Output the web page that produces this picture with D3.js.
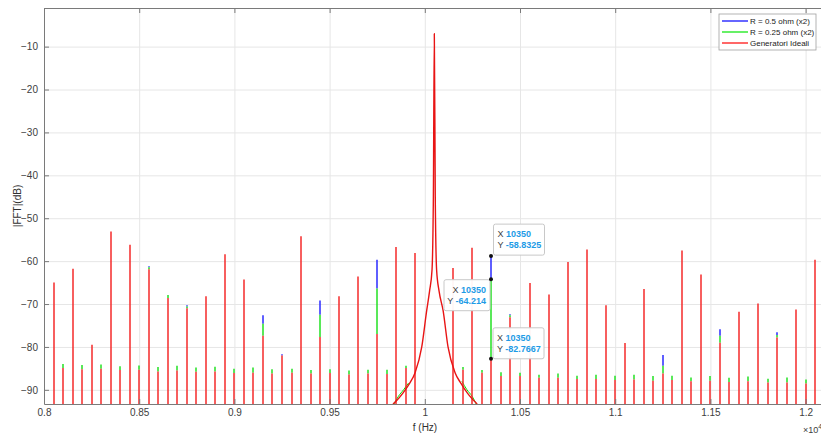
<!DOCTYPE html>
<html lang="en">
<head>
<meta charset="UTF-8">
<title>FFT spectrum</title>
<style>
  body { margin: 0; background: #fff; }
  svg { display: block; font-family: "Liberation Sans", Arial, sans-serif; }
  .axis text { fill: #404040; font-size: 10px; }
  .axis path, .axis line { stroke: #7a7a7a; }
  .grid line { stroke: #e6e6e6; }
  .grid path { display: none; }
</style>
</head>
<body>
<div class="chart"></div>
<script src="https://cdnjs.cloudflare.com/ajax/libs/d3/7.8.5/d3.min.js"></script>
<script>
// harmonics at odd multiples of 50 Hz (dB)
const oddFreq  = [8050, 8150, 8250, 8350, 8450, 8550, 8650, 8750, 8850, 8950,
                  9050, 9150, 9250, 9350, 9450, 9550, 9650, 9750, 9850, 9950,
                  10150, 10250, 10350, 10450, 10550, 10650, 10750, 10850, 10950, 11050,
                  11150, 11250, 11350, 11450, 11550, 11650, 11750, 11850, 11950, 12050];
const oddRed   = [-65.0, -61.8, -79.5, -53.1, -56.2, -61.9, -68.6, -71.0, -68.2, -58.4,
                  -64.3, -77.4, -82.0, -54.2, -77.7, -68.2, -63.6, -77.0, -56.7, -58.1,
                  -61.6, -56.9, -82.7667, -73.1, -65.1, -67.8, -60.2, -57.3, -70.3, -79.1,
                  -66.5, -86.2, -57.5, -63.1, -79.0, -71.8, -69.9, -77.8, -71.3, -59.7];
const oddGreen = [-65.0, -61.8, -79.5, -53.1, -56.2, -61.4, -67.9, -70.6, -68.2, -58.4,
                  -64.3, -74.6, -82.0, -54.2, -72.5, -68.2, -63.6, -66.4, -56.7, -58.1,
                  -61.6, -56.9, -64.214, -72.6, -65.1, -67.8, -60.2, -57.3, -70.3, -79.1,
                  -66.5, -84.4, -57.5, -63.1, -77.4, -71.8, -69.9, -77.2, -71.3, -59.7];
const oddBlue  = [-65.0, -61.8, -79.5, -53.1, -56.2, -61.2, -67.9, -70.3, -68.2, -58.4,
                  -64.3, -72.6, -81.7, -54.2, -69.2, -68.2, -63.6, -59.7, -56.7, -58.1,
                  -61.6, -56.9, -58.8325, -72.4, -65.1, -67.8, -60.2, -57.3, -70.3, -79.1,
                  -66.5, -81.9, -57.5, -63.1, -75.9, -71.8, -69.9, -76.6, -71.3, -59.7];

// harmonics at multiples of 100 Hz (noise floor)
const evenFreq  = [8000, 8100, 8200, 8300, 8400, 8500, 8600, 8700, 8800, 8900,
                   9000, 9100, 9200, 9300, 9400, 9500, 9600, 9700, 9800, 9900,
                   10200, 10300, 10400, 10500, 10600, 10700, 10800, 10900, 11000, 11100,
                   11200, 11300, 11400, 11500, 11600, 11700, 11800, 11900, 12000];
const evenRed   = [-85.1, -84.9, -85.2, -85.1, -85.4, -85.3, -85.7, -85.5, -85.8, -85.7,
                   -86.1, -86.0, -86.2, -86.0, -86.2, -86.1, -86.4, -86.2, -86.3, -84.9,
                   -85.3, -86.0, -86.8, -86.8, -87.2, -87.2, -87.5, -87.5, -87.7, -87.6,
                   -87.9, -87.7, -88.0, -87.9, -88.2, -88.0, -88.3, -88.3, -88.5];
const evenGreen = [-84.1, -84.0, -84.2, -84.1, -84.5, -84.3, -84.7, -84.4, -84.8, -84.6,
                   -85.1, -84.8, -85.2, -85.1, -85.4, -85.2, -85.5, -85.3, -85.3, -84.4,
                   -84.7, -85.4, -85.9, -86.0, -86.5, -86.2, -86.7, -86.5, -86.7, -86.5,
                   -86.8, -86.7, -87.1, -86.8, -87.2, -86.9, -87.4, -87.1, -87.6];

// leakage around the fundamental (10050 Hz)
const peakFreq  = [9833, 9850, 9886, 9920, 9949, 9984, 10010, 10025, 10038, 10045, 10050,
                   10055, 10062, 10075, 10096, 10122, 10159, 10190, 10223, 10275];
const peakRed   = [-93.3, -92.6, -90.7, -88.5, -86.0, -80.0, -71.5, -67.0, -62.0, -45.0, -7.0,
                   -45.0, -62.0, -67.0, -71.5, -80.0, -86.0, -88.5, -90.7, -93.3];
// green leakage only shows through near the floor
const peakGreenFreq = [9838, 9860, 9890, 9915, 10195, 10220, 10250, 10270];
const peakGreen     = [-93.3, -91.6, -89.9, -88.4, -88.0, -89.9, -91.6, -93.3];

const xTicks = [8000, 8500, 9000, 9500, 10000, 10500, 11000, 11500, 12000];
const xTickLabels = ["0.8", "0.85", "0.9", "0.95", "1", "1.05", "1.1", "1.15", "1.2"];
const yTicks = [-90, -80, -70, -60, -50, -40, -30, -20, -10];

const legendLabels = ["R = 0.5 ohm (x2)", "R = 0.25 ohm (x2)", "Generatori Ideali"];
const seriesColors = ["#0000ff", "#00e600", "#ff0000"];

const tipFreq = 10350;
const tipValues = [-58.8325, -64.214, -82.7667];
const tipLabels = ["-58.8325", "-64.214", "-82.7667"];

const W = 821, H = 435;
const mLeft = 44, mTop = 8, mBottom = 404;

const svg = d3.select(".chart").append("svg")
  .attr("width", W).attr("height", H);

const x = d3.scaleLinear().domain([8000, 12100]).range([mLeft, mLeft + 4100 * 0.1904]);
const y = d3.scaleLinear().domain([-93.3, -1]).range([mBottom, mTop]);
const mRight = x(12100);
const px = f => Math.round(x(f));   // stems centred on pixel boundaries -> soft 2px line

// grid
svg.append("g").attr("class", "grid")
  .attr("transform", `translate(0,${mBottom})`)
  .call(d3.axisBottom(x).tickValues(xTicks).tickSize(-(mBottom - mTop)).tickFormat(""));
svg.append("g").attr("class", "grid")
  .attr("transform", `translate(${mLeft},0)`)
  .call(d3.axisLeft(y).tickValues(yTicks).tickSize(-(mRight - mLeft)).tickFormat(""));

svg.append("clipPath").attr("id", "plot")
  .append("rect").attr("x", mLeft).attr("y", mTop)
  .attr("width", mRight - mLeft).attr("height", mBottom - mTop);

const plot = svg.append("g").attr("clip-path", "url(#plot)");

// stem from base (or the axis floor) up to the value; only the part that
// pokes out above the series drawn on top is visible anyway
function stems(freqs, vals, base, color) {
  plot.append("g").selectAll("line")
    .data(freqs)
    .join("line")
    .filter((d, i) => !base || vals[i] > base[i])
    .attr("x1", d => px(d)).attr("x2", d => px(d))
    .attr("y1", d => base ? y(base[freqs.indexOf(d)]) : mBottom + 2)
    .attr("y2", d => y(vals[freqs.indexOf(d)]))
    .attr("stroke", color)
    .attr("stroke-width", 1.5);
}

const line = d3.line().x(d => x(d[0])).y(d => y(d[1])).curve(d3.curveMonotoneX);

const oddTop = oddGreen.map((g, i) => Math.max(g, oddRed[i]));
stems(oddFreq, oddBlue, oddTop, "#2a2aff");
stems(oddFreq, oddGreen, oddRed, "#22e022");
stems(evenFreq, evenGreen, evenRed, "#22e022");
plot.append("path")
  .attr("d", line(peakGreenFreq.slice(0, 4).map((f, i) => [f, peakGreen[i]])))
  .attr("fill", "none").attr("stroke", seriesColors[1]).attr("stroke-width", 1);
plot.append("path")
  .attr("d", line(peakGreenFreq.slice(4).map((f, i) => [f, peakGreen[i + 4]])))
  .attr("fill", "none").attr("stroke", seriesColors[1]).attr("stroke-width", 1);
stems(oddFreq, oddRed, null, "#f42a2a");
stems(evenFreq, evenRed, null, "#f42a2a");
plot.append("path")
  .attr("d", line(peakFreq.map((f, i) => [f, peakRed[i]])))
  .attr("fill", "none").attr("stroke", "#e81414").attr("stroke-width", 1.4);

// axes
svg.append("g").attr("class", "axis")
  .attr("transform", `translate(0,${mBottom})`)
  .call(d3.axisBottom(x).tickValues(xTicks).tickFormat((d, i) => xTickLabels[i])
    .tickSizeInner(-5).tickSizeOuter(0).tickPadding(5));
svg.append("g").attr("class", "axis")
  .attr("transform", `translate(0,${mTop})`)
  .call(d3.axisTop(x).tickValues(xTicks).tickFormat("").tickSizeInner(-5).tickSizeOuter(0));
svg.append("g").attr("class", "axis")
  .attr("transform", `translate(${mLeft},0)`)
  .call(d3.axisLeft(y).tickValues(yTicks).tickSizeInner(-5).tickSizeOuter(0).tickPadding(6));

svg.append("text")
  .attr("transform", `translate(21,${(mTop + mBottom) / 2}) rotate(-90)`)
  .attr("text-anchor", "middle").attr("font-size", 10).attr("fill", "#303030")
  .text("|FFT|(dB)");
svg.append("text")
  .attr("x", 425).attr("y", 431)
  .attr("text-anchor", "middle").attr("font-size", 10).attr("fill", "#303030")
  .text("f (Hz)");
const expo = svg.append("text")
  .attr("x", 803).attr("y", 433).attr("font-size", 9).attr("fill", "#404040");
expo.append("tspan").text("\u00d710");
expo.append("tspan").attr("dy", -4).attr("font-size", 7).text("4");

// legend
const lg = svg.append("g").attr("transform", "translate(719,14)");
lg.append("rect").attr("width", 97).attr("height", 36)
  .attr("fill", "#fff").attr("stroke", "#a0a0a0").attr("stroke-width", 0.8);
legendLabels.forEach((t, i) => {
  const ly = 7 + i * 11;
  lg.append("line").attr("x1", 3).attr("x2", 29).attr("y1", ly).attr("y2", ly)
    .attr("stroke", seriesColors[i]).attr("stroke-width", 1.2);
  lg.append("text").attr("x", 31).attr("y", ly + 3)
    .attr("font-size", 8).attr("fill", "#222").text(t);
});

// data tips
const tipBoxes = [
  { dx: 2.5, dy: -32, w: 51, anchor: "start" },
  { dx: -47, dy: 0.5, w: 46, anchor: "end" },
  { dx: 2, dy: -31, w: 51, anchor: "start" }
];
tipValues.forEach((v, i) => {
  const cx = px(tipFreq), cy = y(v), b = tipBoxes[i];
  const g = svg.append("g").attr("transform", `translate(${cx + b.dx},${cy + b.dy})`);
  g.append("rect").attr("width", b.w).attr("height", 31).attr("rx", 2)
    .attr("fill", "#fff").attr("fill-opacity", 0.95)
    .attr("stroke", "#c8c8c8").attr("stroke-width", 1);
  const tx = b.anchor === "start" ? 4 : b.w - 4;
  const rows = [["X ", String(tipFreq)], ["Y ", tipLabels[i]]];
  rows.forEach((r, j) => {
    const t = g.append("text").attr("x", tx).attr("y", 13 + j * 11)
      .attr("text-anchor", b.anchor).attr("font-size", 9);
    t.append("tspan").attr("fill", "#404040").text(r[0]);
    t.append("tspan").attr("fill", "#1e9be6").attr("font-weight", "bold").text(r[1]);
  });
  svg.append("circle").attr("cx", cx).attr("cy", cy).attr("r", 2).attr("fill", "#111");
});
</script>
</body>
</html>
